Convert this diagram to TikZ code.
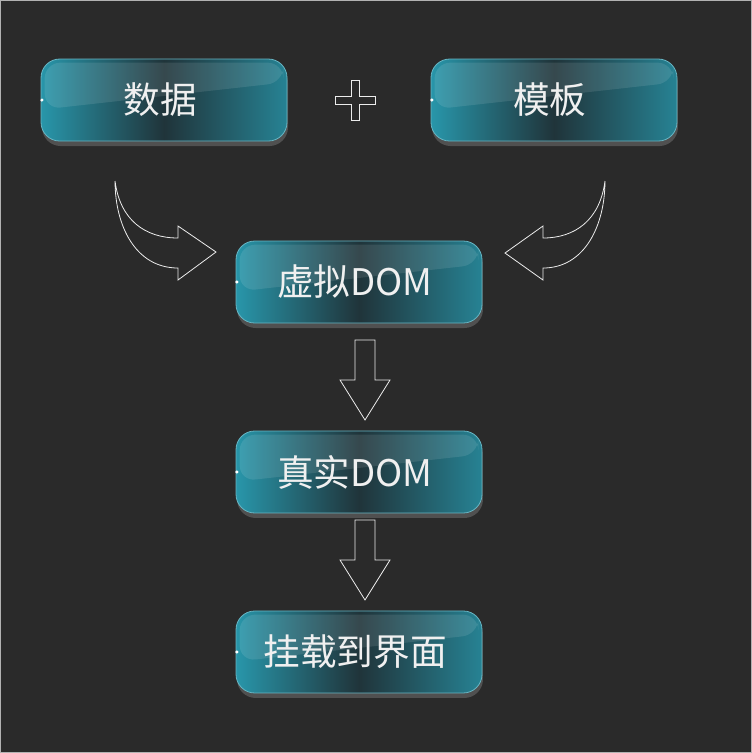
\documentclass[tikz,border=0pt]{standalone}
\usepackage{fontspec}
\setmainfont{Noto Sans CJK SC}
\usetikzlibrary{shadings}
\definecolor{bg}{RGB}{42,42,42}
\definecolor{tealA}{RGB}{40,150,170}
\definecolor{tealB}{RGB}{32,52,58}
\definecolor{txt}{RGB}{240,240,240}
\tikzset{
  box/.style={rounded corners=14pt, minimum width=184.5pt, minimum height=61.5pt,
    left color=tealA, right color=tealA!80!tealB, middle color=tealB, draw=tealA!70!white, line width=0.6pt,
    text=txt, font=\fontsize{27}{30}\selectfont, inner sep=0pt},
  shadowbox/.style={rounded corners=14pt, fill=gray!45!bg, minimum width=184.5pt, minimum height=61.5pt},
  outl/.style={draw=white!85!gray, line width=0.6pt, line join=miter}
}
\begin{document}
\begin{tikzpicture}[x=0.75pt,y=-0.75pt]
\fill[bg] (0,0) rectangle (752,753);
\draw[gray!60, line width=0.8pt] (0.5,0.5) rectangle (751.5,752.5);
\foreach \n/\x/\y/\t in {a/164/100/数据, b/554/100/模板, c/359/282/虚拟DOM, d/359/472/真实DOM, e/359/652/挂载到界面}{
  \node[shadowbox] at (\x+1,\y+5) {};
  \node[box] (\n) at (\x,\y) {};
  \fill[white, opacity=0.10, rounded corners=12pt] ([xshift=3pt,yshift=-3pt]\n.north west) -- ([xshift=-3pt,yshift=-3pt]\n.north east) -- ([xshift=-3pt,yshift=-18pt]\n.north east) -- ([xshift=3pt,yshift=-38pt]\n.north west) -- cycle;
  \fill[white] ([xshift=1pt]\n.west) circle (1.3pt);
  \node[text=txt, font=\fontsize{27.5}{30}\selectfont] at ([xshift=-3pt]\n.center) {\t};
}
% plus
\node (plus) at (355,100) {};
\draw[outl] (351,80) -- (359,80) -- (359,96) -- (375,96) -- (375,104) -- (359,104) -- (359,120) -- (351,120) -- (351,104) -- (335,104) -- (335,96) -- (351,96) -- cycle;
% left curved arrow
\coordinate (lt) at (115,181);
\draw[outl] (lt) .. controls (120,220) and (145,238) .. (178,238) -- (178,226) -- (216,252) -- (178,280) -- (178,268) .. controls (135,268) and (115,225) .. (lt);
% right curved arrow
\coordinate (rt) at (605,181);
\draw[outl] (rt) .. controls (600,220) and (575,238) .. (543,238) -- (543,226) -- (505,253) -- (543,280) -- (543,268) .. controls (585,268) and (605,225) .. (rt);
% down arrows
\foreach \y in {340,520}{
  \draw[outl] (355,\y) -- (375,\y) -- (375,\y+40) -- (390,\y+40) -- (365,\y+80) -- (340,\y+40) -- (355,\y+40) -- cycle;
}
\end{tikzpicture}
\end{document}
